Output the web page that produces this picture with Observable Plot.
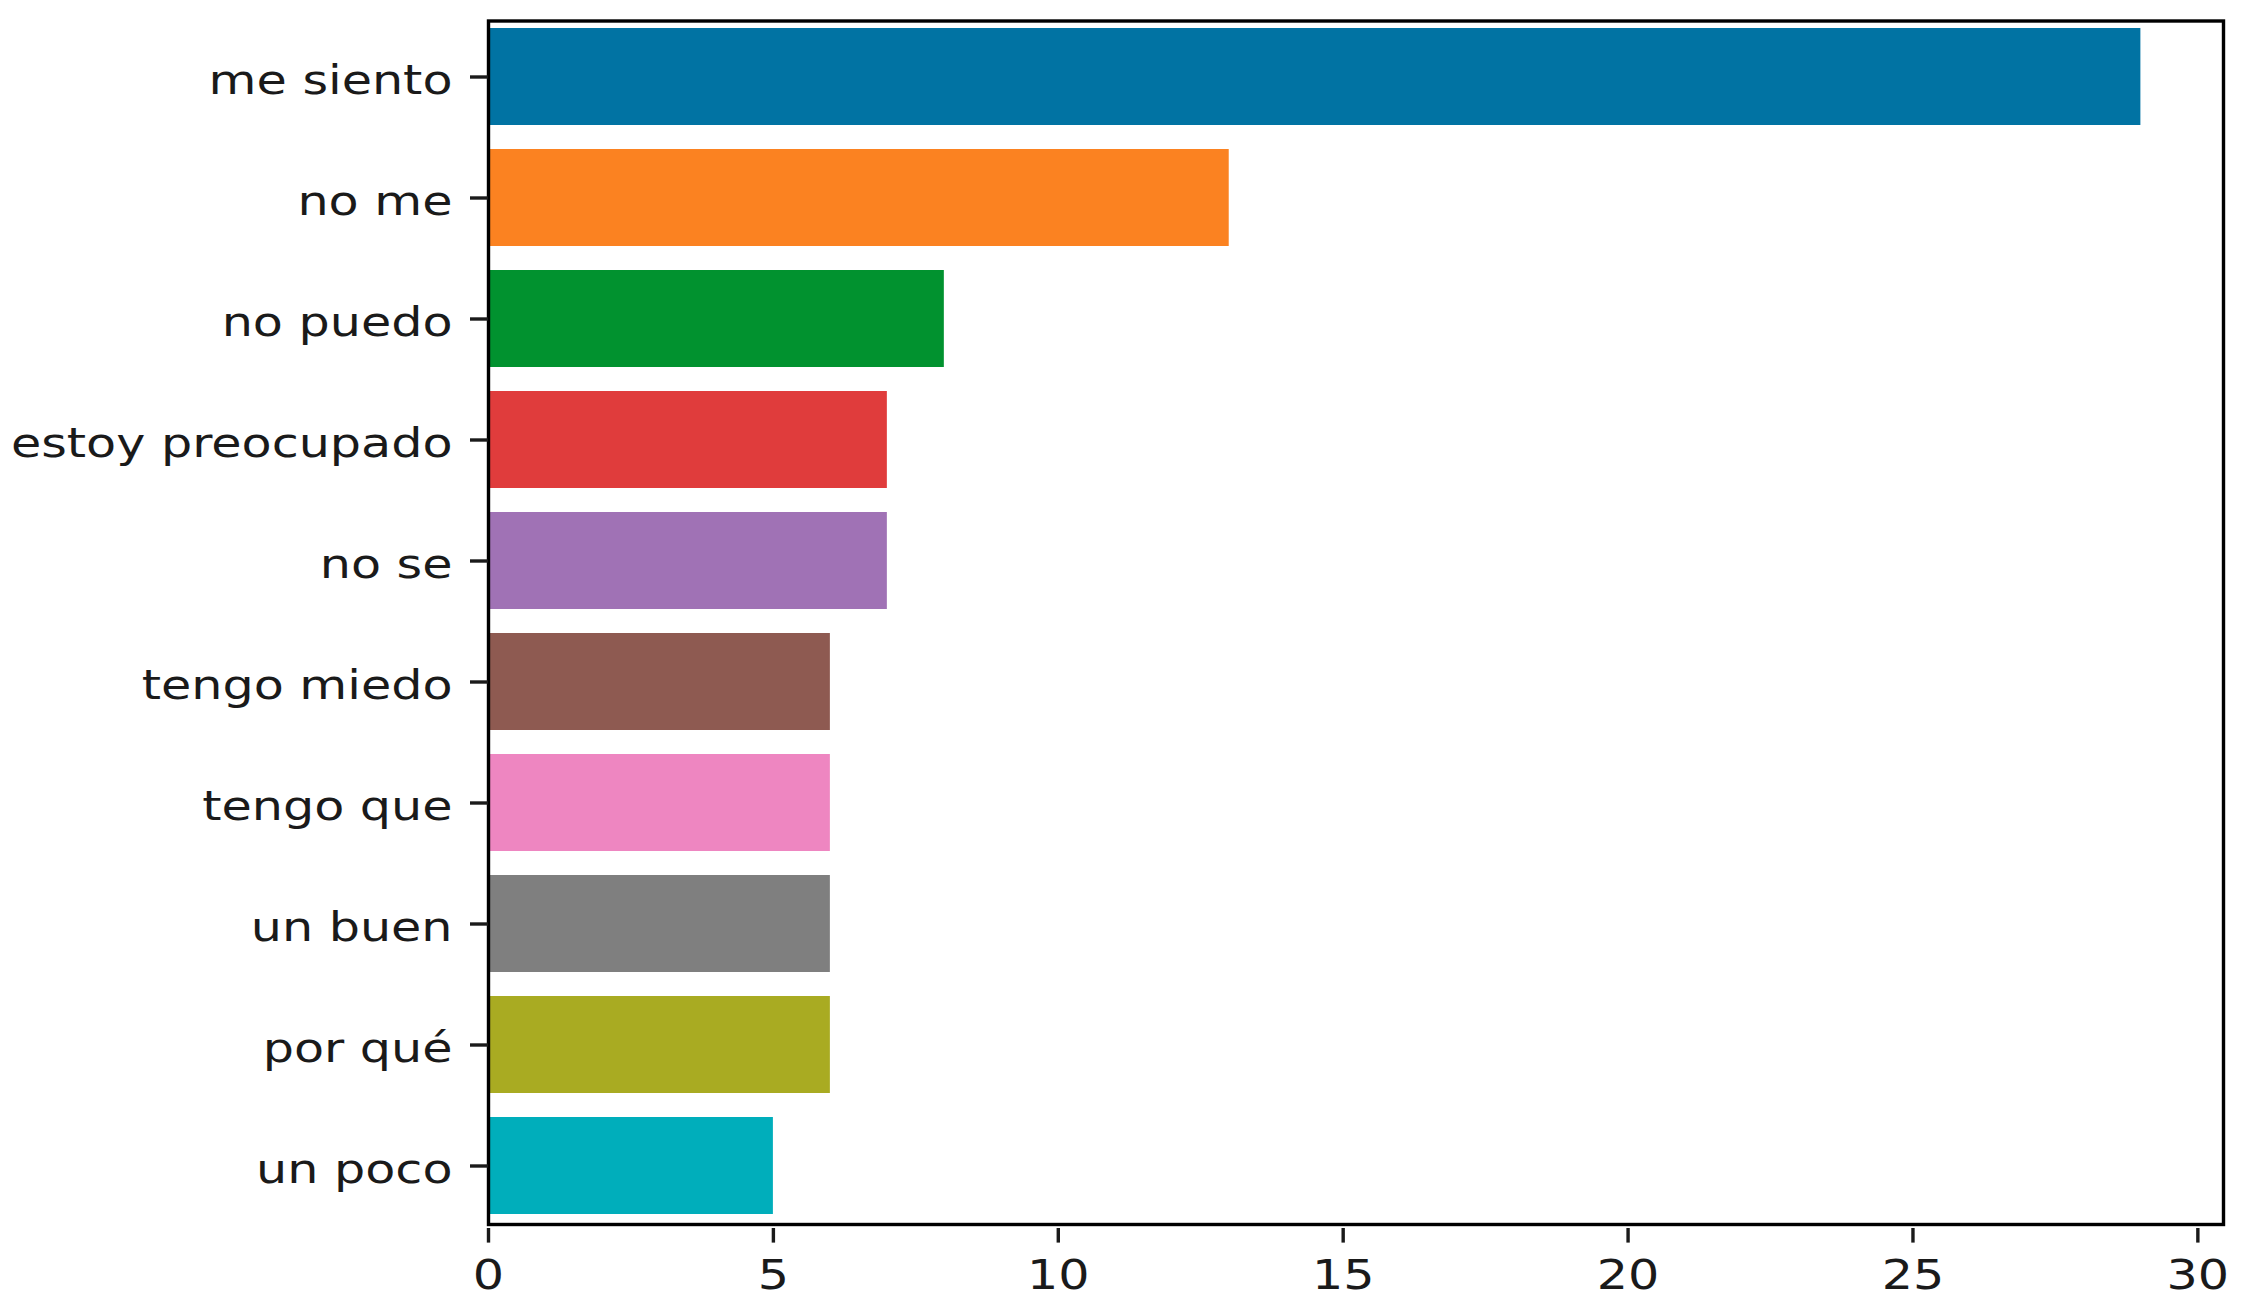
<!DOCTYPE html>
<html>
<head>
<meta charset="utf-8">
<script src="https://cdn.jsdelivr.net/npm/d3@7"></script>
<script src="https://cdn.jsdelivr.net/npm/@observablehq/plot@0.6"></script>
<style>
  html, body { margin: 0; padding: 0; background: #fff; }
  #chart svg { display: block; }
</style>
</head>
<body>
<div id="chart"></div>
<script>
const categories = ["me siento", "no me", "no puedo", "estoy preocupado", "no se", "tengo miedo", "tengo que", "un buen", "por qué", "un poco"];
const counts = [29, 13, 8, 7, 7, 6, 6, 6, 6, 5];
const colors = ["#0173a3", "#fb8221", "#01922f", "#e03c3c", "#a072b5", "#8e5a51", "#ee86c1", "#7f7f7f", "#a9ab22", "#00aebb"];
const xTicks = [0, 5, 10, 15, 20, 25, 30];

const data = categories.map((c, i) => ({phrase: c, count: counts[i]}));

const fontPx = 41;
const stretch = 1.2;

const plot = Plot.plot({
  width: 2244,
  height: 1314,
  marginLeft: 488,
  marginRight: 21,
  marginTop: 16,
  marginBottom: 88,
  style: {fontFamily: "DejaVu Sans", fontSize: fontPx + "px", color: "#1a1a1a", background: "#fff"},
  x: {domain: [0, 30.45], ticks: xTicks, label: null},
  y: {domain: categories, paddingInner: 0.2, paddingOuter: 0.1, label: null},
  color: {domain: categories, range: colors},
  marks: [
    Plot.barX(data, {x: "count", y: "phrase", fill: "phrase"}),
    Plot.frame({stroke: "#000", strokeWidth: 3.4, insetTop: 4.5, insetBottom: 2}),
    Plot.axisX({ticks: xTicks, tickSize: 14.6, tickPadding: 17, strokeWidth: 3.4, fontSize: fontPx, label: null, dy: 2}),
    Plot.axisY({tickSize: 18, strokeWidth: 3.4, text: null, label: null}),
    Plot.axisY({tickSize: 0, tickPadding: 36, fontSize: fontPx, label: null, dy: 4})
  ]
});

// horizontally stretch tick labels (the reference glyphs are wider than tall)
for (const t of plot.querySelectorAll('g[aria-label$="tick label"] text')) {
  const x = parseFloat(t.getAttribute("x")) || 0;
  const tr = t.getAttribute("transform") || "";
  t.removeAttribute("x");
  t.setAttribute("transform", `${tr} translate(${x},0) scale(${stretch},1)`);
}
document.getElementById("chart").appendChild(plot);
</script>
</body>
</html>
